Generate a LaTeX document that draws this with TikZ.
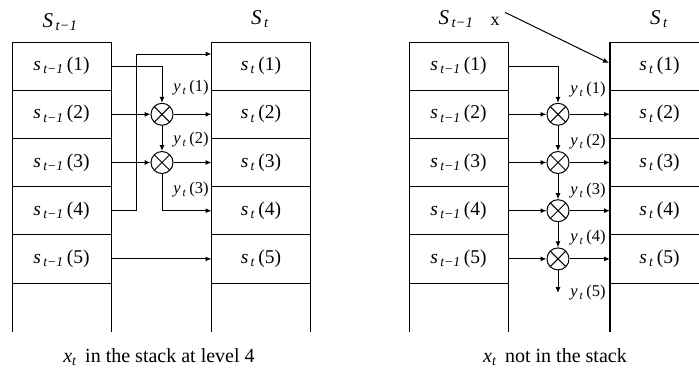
\documentclass[tikz,border=0pt]{standalone}
\usepackage{fontspec}
\setmainfont{Liberation Serif}
\usetikzlibrary{arrows.meta,calc}
\newcommand{\sv}[2]{\textit{s}\textsubscript{\,\textit{#1}}\,(#2)}
\newcommand{\yv}[1]{\textit{y}\textsubscript{\,\textit{t}}\,(#1)}
\newcommand{\Sv}[1]{\textit{S}\textsubscript{\,\textit{#1}}}
\begin{document}
\begin{tikzpicture}[x=1pt,y=-1pt,
  line width=1pt,
  cell/.style={draw, minimum width=99pt, minimum height=48.2pt, inner sep=0pt, outer sep=0pt,
    font=\fontsize{19.5}{19.5}\selectfont},
  mult/.style={circle, draw, minimum size=22pt, inner sep=0pt,
    path picture={\draw (path picture bounding box.north west) -- (path picture bounding box.south east)
                        (path picture bounding box.north east) -- (path picture bounding box.south west);}},
  arr/.style={-{Latex[length=6pt,width=5pt]}},
  ylab/.style={font=\fontsize{16.5}{16.5}\selectfont, inner sep=0pt, anchor=east},
  head/.style={font=\fontsize{21}{21}\selectfont, inner sep=0pt},
  captxt/.style={font=\fontsize{20}{20}\selectfont, inner sep=0pt}]
\useasboundingbox (0,0) rectangle (699,373);

% ---------------- left diagram ----------------
\node[head] (hL1) at (60,22) {\Sv{t−1}};
\node[head] (hR1) at (260,19) {\Sv{t}};
\foreach \k/\yy in {1/66.1,2/114.3,3/162.5,4/210.7,5/258.9}{
  \node[cell] (a\k) at (61.5,\yy) {\sv{t−1}{\k}};
  \node[cell] (b\k) at (261,\yy) {\sv{t}{\k}};
}
\draw (a5.south west) -- ++(0,49) (a5.south east) -- ++(0,49);
\draw (b5.south west) -- ++(0,49) (b5.south east) -- ++(0,49);

\node[mult] (m1) at (162,114.3) {};
\node[mult] (m2) at (162,162.5) {};
\coordinate (k1) at (136,54);

\draw[arr] (a1.east) -| (m1.north);
\draw[arr] (a2.east) -- (m1.west);
\draw[arr] (m1.east) -- (b2.west);
\draw[arr] (m1.south) -- (m2.north);
\draw[arr] (a3.east) -- (m2.west);
\draw[arr] (m2.east) -- (b3.west);
\draw[arr] (m2.south) |- (b4.west);
\draw[arr] (a4.east) -| (k1) -- (k1 -| b1.west);
\draw[arr] (a5.east) -- (b5.west);

\node[ylab] (yl1) at (209,88) {\yv{1}};
\node[ylab] (yl2) at (209,140) {\yv{2}};
\node[ylab] (yl3) at (209,190) {\yv{3}};

\node[captxt] (capL) at (159,357) {\textit{x}\textsubscript{\textit{t}}\, in the stack at level 4};

% ---------------- right diagram ----------------
\node[head] (hL2) at (456,19) {\Sv{t−1}};
\node[font=\fontsize{18}{18}\selectfont, inner sep=1pt] (xin) at (495,21) {x};
\node[head] (hR2) at (659,19) {\Sv{t}};
\foreach \k/\yy in {1/66.1,2/114.3,3/162.5,4/210.7,5/258.9}{
  \node[cell] (c\k) at (458.5,\yy) {\sv{t−1}{\k}};
  \node[cell] (d\k) at (659.5,\yy) {\sv{t}{\k}};
}
\draw (c5.south west) -- ++(0,49) (c5.south east) -- ++(0,49);
\draw (d5.south west) -- ++(0,49) (d5.south east) -- ++(0,49);
\draw[line width=1.5pt] (d1.north west) -- (d5.south west) -- ++(0,49);

\foreach \k/\yy in {1/114.3,2/162.5,3/210.7,4/258.9}{
  \node[mult] (n\k) at (558,\yy) {};
}
\draw[arr] (c1.east) -| (n1.north);
\draw[arr] (c2.east) -- (n1.west);
\draw[arr] (n1.east) -- (d2.west);
\draw[arr] (c3.east) -- (n2.west);
\draw[arr] (n2.east) -- (d3.west);
\draw[arr] (c4.east) -- (n3.west);
\draw[arr] (n3.east) -- (d4.west);
\draw[arr] (c5.east) -- (n4.west);
\draw[arr] (n4.east) -- (d5.west);
\draw[arr] (n1.south) -- (n2.north);
\draw[arr] (n2.south) -- (n3.north);
\draw[arr] (n3.south) -- (n4.north);
\coordinate (e5) at (558,293);
\draw[arr] (n4.south) -- (e5);
\coordinate (xa) at (609,63);
\draw[arr] ([xshift=4pt,yshift=3pt]xin.north east) -- (xa);

\node[ylab] (zl1) at (606,90) {\yv{1}};
\node[ylab] (zl2) at (606,142) {\yv{2}};
\node[ylab] (zl3) at (606,191) {\yv{3}};
\node[ylab] (zl4) at (606,238) {\yv{4}};
\node[ylab] (zl5) at (606,293) {\yv{5}};

\node[captxt] (capR) at (555,357) {\textit{x}\textsubscript{\textit{t}}\, not in the stack};
\end{tikzpicture}
\end{document}
